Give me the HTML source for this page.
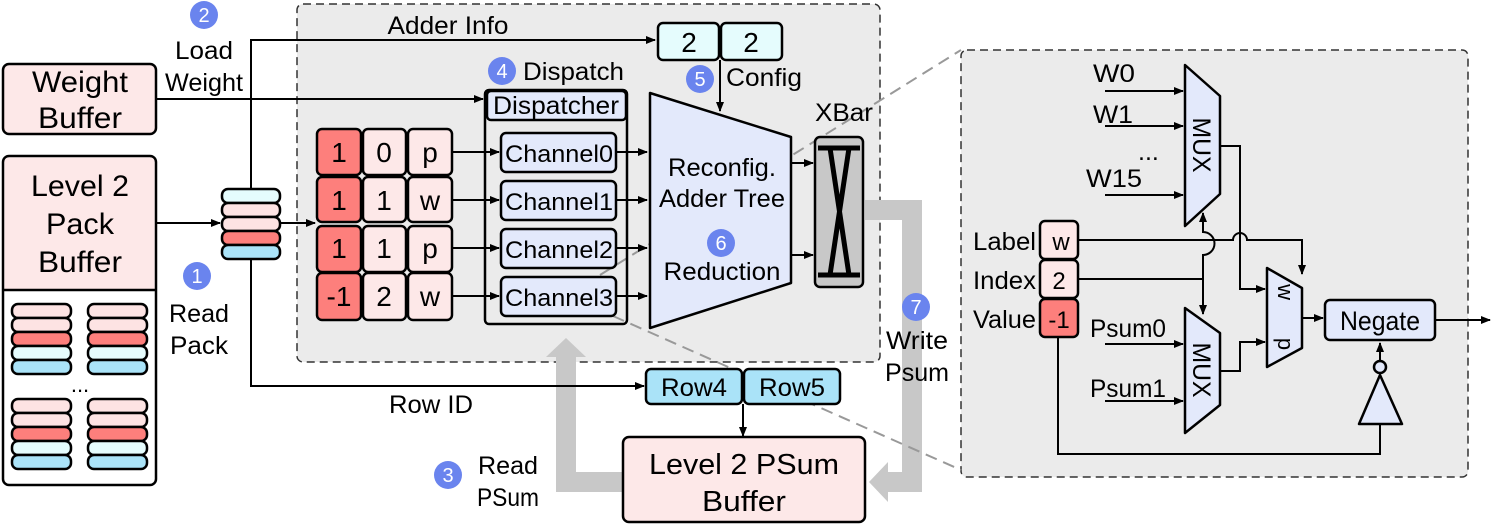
<!DOCTYPE html>
<html><head><meta charset="utf-8"><style>
html,body{margin:0;padding:0;background:#fff;}
svg{display:block;font-family:"Liberation Sans",sans-serif;}
</style></head><body>
<svg width="1495" height="529" viewBox="0 0 1495 529" xmlns="http://www.w3.org/2000/svg">
<defs>
<marker id="a" markerWidth="10" markerHeight="8" refX="9" refY="4" orient="auto" markerUnits="userSpaceOnUse"><path d="M0,0 L10,4 L0,8 z" fill="#000"/></marker>
</defs>
<rect x="297" y="4" width="583" height="358" rx="6" fill="#ebebeb" stroke="#333" stroke-width="1.5" stroke-dasharray="8,5"/>
<rect x="961" y="50" width="507" height="427" rx="6" fill="#ebebeb" stroke="#333" stroke-width="1.5" stroke-dasharray="8,5"/>

<path d="M623,482 L566,482 L566,355" fill="none" stroke="#c8c8c8" stroke-width="20"/>
<polygon points="546,357 586,357 566,338" fill="#c8c8c8"/>
<path d="M865,210 L912,210 L912,482 L888,482" fill="none" stroke="#c8c8c8" stroke-width="20"/>
<polygon points="888,462 888,502 869,482" fill="#c8c8c8"/>

<line x1="600" y1="275" x2="961" y2="50" stroke="#999" stroke-width="2" stroke-dasharray="12,7"/>
<line x1="613" y1="316" x2="961" y2="470" stroke="#999" stroke-width="2" stroke-dasharray="12,7"/>

<rect x="3" y="64" width="153" height="70" rx="6" fill="#fde8e8" stroke="#000" stroke-width="2.5"/>
<text x="80" y="92" font-size="30" text-anchor="middle" textLength="96" lengthAdjust="spacingAndGlyphs">Weight</text>
<text x="80" y="128" font-size="30" text-anchor="middle" textLength="84" lengthAdjust="spacingAndGlyphs">Buffer</text>
<rect x="3" y="156" width="153" height="329" rx="6" fill="#fff" stroke="#000" stroke-width="2.5"/>
<path d="M4.5,290 L4.5,162 Q4.5,157.5 9,157.5 L150,157.5 Q154.5,157.5 154.5,162 L154.5,290 Z" fill="#fde8e8"/>
<line x1="3" y1="290" x2="156" y2="290" stroke="#000" stroke-width="2.5"/>
<text x="80" y="196" font-size="30" text-anchor="middle" textLength="98" lengthAdjust="spacingAndGlyphs">Level 2</text>
<text x="80" y="234" font-size="30" text-anchor="middle" textLength="68" lengthAdjust="spacingAndGlyphs">Pack</text>
<text x="80" y="272" font-size="30" text-anchor="middle" textLength="84" lengthAdjust="spacingAndGlyphs">Buffer</text>
<g stroke="#000" stroke-width="2.5">
<rect x="12" y="304" width="59" height="14" rx="6" fill="#fde3e3"/><rect x="12" y="318" width="59" height="14" rx="6" fill="#fde3e3"/><rect x="12" y="332" width="59" height="14" rx="6" fill="#fd7f7c"/><rect x="12" y="346" width="59" height="14" rx="6" fill="#e5fcfd"/><rect x="12" y="360" width="59" height="14" rx="6" fill="#aae3f8"/>
<rect x="88" y="304" width="59" height="14" rx="6" fill="#fde3e3"/><rect x="88" y="318" width="59" height="14" rx="6" fill="#fde3e3"/><rect x="88" y="332" width="59" height="14" rx="6" fill="#fd7f7c"/><rect x="88" y="346" width="59" height="14" rx="6" fill="#e5fcfd"/><rect x="88" y="360" width="59" height="14" rx="6" fill="#aae3f8"/>
<rect x="12" y="399" width="59" height="14" rx="6" fill="#fde3e3"/><rect x="12" y="413" width="59" height="14" rx="6" fill="#fde3e3"/><rect x="12" y="427" width="59" height="14" rx="6" fill="#fd7f7c"/><rect x="12" y="441" width="59" height="14" rx="6" fill="#e5fcfd"/><rect x="12" y="455" width="59" height="14" rx="6" fill="#aae3f8"/>
<rect x="88" y="399" width="59" height="14" rx="6" fill="#fde3e3"/><rect x="88" y="413" width="59" height="14" rx="6" fill="#fde3e3"/><rect x="88" y="427" width="59" height="14" rx="6" fill="#fd7f7c"/><rect x="88" y="441" width="59" height="14" rx="6" fill="#e5fcfd"/><rect x="88" y="455" width="59" height="14" rx="6" fill="#aae3f8"/>
</g>
<text x="80" y="392" font-size="22" text-anchor="middle">...</text>

<g stroke="#000" stroke-width="2" fill="none">
<path d="M251,188 L251,40 L655,40" marker-end="url(#a)"/>
<path d="M156,99 L483,99" marker-end="url(#a)"/>
<path d="M251,259 L251,386 L644,386" marker-end="url(#a)"/>
<path d="M156,223 L220,223" marker-end="url(#a)"/>
<path d="M281,223 L315,223" marker-end="url(#a)"/>
</g>
<g stroke="#000" stroke-width="2.5">
<rect x="222" y="189" width="58" height="14" rx="6" fill="#e5fcfd"/><rect x="222" y="203" width="58" height="14" rx="6" fill="#fde3e3"/><rect x="222" y="217" width="58" height="14" rx="6" fill="#fde3e3"/><rect x="222" y="231" width="58" height="14" rx="6" fill="#fd7f7c"/><rect x="222" y="245" width="58" height="14" rx="6" fill="#aae3f8"/>
</g>
<g font-size="25">
<text x="204" y="59" text-anchor="middle" textLength="58" lengthAdjust="spacingAndGlyphs">Load</text>
<text x="204" y="91" text-anchor="middle" textLength="78" lengthAdjust="spacingAndGlyphs">Weight</text>
<text x="199" y="322" text-anchor="middle" textLength="60" lengthAdjust="spacingAndGlyphs">Read</text>
<text x="199" y="354" text-anchor="middle" textLength="58" lengthAdjust="spacingAndGlyphs">Pack</text>
<text x="448" y="34" text-anchor="middle" textLength="121" lengthAdjust="spacingAndGlyphs">Adder Info</text>
<text x="431" y="413" text-anchor="middle" textLength="84" lengthAdjust="spacingAndGlyphs">Row ID</text>
</g>

<g stroke="#000" stroke-width="2.5">
<rect x="317" y="129" width="44" height="46" rx="5" fill="#fd7f7c"/><rect x="363" y="129" width="43" height="46" rx="5" fill="#fde8e8"/><rect x="408" y="129" width="44" height="46" rx="5" fill="#fde8e8"/>
<rect x="317" y="177" width="44" height="45" rx="5" fill="#fd7f7c"/><rect x="363" y="177" width="43" height="45" rx="5" fill="#fde8e8"/><rect x="408" y="177" width="44" height="45" rx="5" fill="#fde8e8"/>
<rect x="317" y="226" width="44" height="46" rx="5" fill="#fd7f7c"/><rect x="363" y="226" width="43" height="46" rx="5" fill="#fde8e8"/><rect x="408" y="226" width="44" height="46" rx="5" fill="#fde8e8"/>
<rect x="317" y="273" width="44" height="47" rx="5" fill="#fd7f7c"/><rect x="363" y="273" width="43" height="47" rx="5" fill="#fde8e8"/><rect x="408" y="273" width="44" height="47" rx="5" fill="#fde8e8"/>
</g>
<g font-size="28" text-anchor="middle">
<text x="339" y="162">1</text><text x="384" y="162">0</text><text x="430" y="162">p</text>
<text x="339" y="210">1</text><text x="384" y="210">1</text><text x="430" y="210">w</text>
<text x="339" y="258">1</text><text x="384" y="258">1</text><text x="430" y="258">p</text>
<text x="339" y="306">-1</text><text x="384" y="306">2</text><text x="430" y="306">w</text>
</g>
<g stroke="#000" stroke-width="2" fill="none">
<path d="M452,152 L499,152" marker-end="url(#a)"/><path d="M452,200 L499,200" marker-end="url(#a)"/>
<path d="M452,248 L499,248" marker-end="url(#a)"/><path d="M452,296 L499,296" marker-end="url(#a)"/>
<path d="M616,152 L647,152" marker-end="url(#a)"/><path d="M616,200 L647,200" marker-end="url(#a)"/>
<path d="M616,248 L647,248" marker-end="url(#a)"/><path d="M616,296 L647,296" marker-end="url(#a)"/>
<path d="M720,60 L720,111" marker-end="url(#a)"/>
<path d="M792,163 L813,163" marker-end="url(#a)"/><path d="M792,255 L813,255" marker-end="url(#a)"/>
<path d="M743,404 L743,436" marker-end="url(#a)"/>
</g>
<rect x="485" y="90" width="142" height="234" rx="4" fill="none" stroke="#000" stroke-width="2.5"/>
<rect x="487" y="91" width="139" height="29" rx="4" fill="#e3e9fb" stroke="#000" stroke-width="2.5"/>
<text x="556" y="114" font-size="25" text-anchor="middle" textLength="126" lengthAdjust="spacingAndGlyphs">Dispatcher</text>
<g stroke="#000" stroke-width="2.5" fill="#e3e9fb">
<rect x="501" y="133" width="115" height="39" rx="5"/><rect x="501" y="181" width="115" height="39" rx="5"/>
<rect x="501" y="229" width="115" height="39" rx="5"/><rect x="501" y="277" width="115" height="39" rx="5"/>
</g>
<g font-size="24" text-anchor="middle">
<text x="559" y="162" textLength="108" lengthAdjust="spacingAndGlyphs">Channel0</text><text x="559" y="210" textLength="108" lengthAdjust="spacingAndGlyphs">Channel1</text>
<text x="559" y="258" textLength="108" lengthAdjust="spacingAndGlyphs">Channel2</text><text x="559" y="306" textLength="108" lengthAdjust="spacingAndGlyphs">Channel3</text>
</g>
<text x="523" y="80" font-size="25" textLength="101" lengthAdjust="spacingAndGlyphs">Dispatch</text>
<polygon points="650,93 791,137 791,283 650,328" fill="#e3e9fb" stroke="#000" stroke-width="2.5" stroke-linejoin="round"/>
<text x="722" y="176" font-size="25" text-anchor="middle" textLength="108" lengthAdjust="spacingAndGlyphs">Reconfig.</text>
<text x="722" y="207" font-size="25" text-anchor="middle" textLength="126" lengthAdjust="spacingAndGlyphs">Adder Tree</text>
<text x="722" y="280" font-size="25" text-anchor="middle" textLength="117" lengthAdjust="spacingAndGlyphs">Reduction</text>
<rect x="658" y="23" width="61" height="37" rx="5" fill="#e5fcfd" stroke="#000" stroke-width="2.5"/>
<rect x="721" y="23" width="61" height="37" rx="5" fill="#e5fcfd" stroke="#000" stroke-width="2.5"/>
<text x="689" y="52" font-size="28" text-anchor="middle">2</text><text x="751" y="52" font-size="28" text-anchor="middle">2</text>
<text x="726" y="86" font-size="25" textLength="76" lengthAdjust="spacingAndGlyphs">Config</text>
<rect x="815" y="137" width="48" height="150" rx="5" fill="#c8c8c8" stroke="#000" stroke-width="2.5"/>
<path d="M818,148 L860,148 M818,275 L860,275 M830,148 L849,275 M849,148 L830,275" stroke="#000" stroke-width="5" fill="none"/>
<text x="815" y="121" font-size="25" textLength="58" lengthAdjust="spacingAndGlyphs">XBar</text>
<rect x="646" y="369" width="96" height="35" rx="5" fill="#aae3f8" stroke="#000" stroke-width="2.5"/>
<rect x="744" y="369" width="96" height="35" rx="5" fill="#aae3f8" stroke="#000" stroke-width="2.5"/>
<text x="694" y="396" font-size="25" text-anchor="middle" textLength="66" lengthAdjust="spacingAndGlyphs">Row4</text><text x="792" y="396" font-size="25" text-anchor="middle" textLength="66" lengthAdjust="spacingAndGlyphs">Row5</text>
<rect x="623" y="437" width="242" height="85" rx="6" fill="#fde8e8" stroke="#000" stroke-width="2.5"/>
<text x="744" y="474" font-size="29" text-anchor="middle" textLength="190" lengthAdjust="spacingAndGlyphs">Level 2 PSum</text>
<text x="744" y="511" font-size="29" text-anchor="middle" textLength="84" lengthAdjust="spacingAndGlyphs">Buffer</text>
<g font-size="25">
<text x="508" y="474" text-anchor="middle" textLength="60" lengthAdjust="spacingAndGlyphs">Read</text>
<text x="508" y="506" text-anchor="middle" textLength="62" lengthAdjust="spacingAndGlyphs">PSum</text>
<text x="917" y="349" text-anchor="middle" textLength="62" lengthAdjust="spacingAndGlyphs">Write</text>
<text x="917" y="381" text-anchor="middle" textLength="64" lengthAdjust="spacingAndGlyphs">Psum</text>
</g>

<g fill="#6a84ee">
<circle cx="204" cy="15" r="14"/><circle cx="197" cy="276" r="14"/><circle cx="502" cy="71" r="14"/>
<circle cx="700" cy="79" r="14"/><circle cx="721" cy="243" r="14"/><circle cx="916" cy="307" r="14"/><circle cx="448" cy="475" r="14"/>
</g>
<g fill="#fff" font-size="20" text-anchor="middle">
<text x="204" y="22">2</text><text x="197" y="283">1</text><text x="502" y="78">4</text>
<text x="700" y="86">5</text><text x="721" y="250">6</text><text x="916" y="314">7</text><text x="448" y="482">3</text>
</g>

<g font-size="25">
<text x="1093" y="82" textLength="42" lengthAdjust="spacingAndGlyphs">W0</text><text x="1093" y="123" textLength="40" lengthAdjust="spacingAndGlyphs">W1</text><text x="1138" y="160">...</text><text x="1086" y="187" textLength="56" lengthAdjust="spacingAndGlyphs">W15</text>
<text x="1036" y="250" text-anchor="end" textLength="63" lengthAdjust="spacingAndGlyphs">Label</text><text x="1036" y="289" text-anchor="end" textLength="63" lengthAdjust="spacingAndGlyphs">Index</text><text x="1036" y="328" text-anchor="end" textLength="63" lengthAdjust="spacingAndGlyphs">Value</text>
<text x="1090" y="337" textLength="76" lengthAdjust="spacingAndGlyphs">Psum0</text><text x="1090" y="397" textLength="76" lengthAdjust="spacingAndGlyphs">Psum1</text>
</g>
<g stroke="#000" stroke-width="2" fill="none">
<path d="M1105,91 L1183,91" marker-end="url(#a)"/><path d="M1105,126 L1183,126" marker-end="url(#a)"/>
<path d="M1105,195 L1183,195" marker-end="url(#a)"/>
<path d="M1105,344 L1183,344" marker-end="url(#a)"/><path d="M1105,401 L1183,401" marker-end="url(#a)"/>
<path d="M1078,240 L1233,240 A7,7 0 0 1 1247,240 L1302,240 L1302,274" marker-end="url(#a)"/>
<path d="M1078,279 L1203,279"/>
<path d="M1203,279 L1203,255 A8,8 0 0 0 1203,232 L1203,213" marker-end="url(#a)"/>
<path d="M1203,279 L1203,314" marker-end="url(#a)"/>
<path d="M1220,146 L1240,146 L1240,289 L1265,289" marker-end="url(#a)"/>
<path d="M1220,371 L1240,371 L1240,342 L1265,342" marker-end="url(#a)"/>
<path d="M1302,318 L1323,318" marker-end="url(#a)"/>
<path d="M1435,320 L1490,320" marker-end="url(#a)"/>
<path d="M1058,337 L1058,454 L1380,454 L1380,424"/>
<path d="M1380,361 L1380,343" marker-end="url(#a)"/>
</g>
<g stroke="#000" stroke-width="2.5" fill="#e3e9fb" stroke-linejoin="round">
<polygon points="1185,65 1220,96 1220,194 1185,226"/>
<polygon points="1185,308 1220,333 1220,405 1185,433"/>
<polygon points="1267,268 1302,288 1302,348 1267,367"/>
<rect x="1325" y="300" width="110" height="40" rx="5"/>
<polygon points="1380,375 1402,424 1359,424"/>
<circle cx="1380" cy="367" r="6"/>
</g>
<text transform="translate(1193,145) rotate(90)" font-size="25" text-anchor="middle" textLength="55" lengthAdjust="spacingAndGlyphs">MUX</text>
<text transform="translate(1193,370) rotate(90)" font-size="25" text-anchor="middle" textLength="55" lengthAdjust="spacingAndGlyphs">MUX</text>
<text transform="translate(1278,292) rotate(90)" font-size="22" text-anchor="middle">w</text>
<text transform="translate(1278,344) rotate(90)" font-size="22" text-anchor="middle">p</text>
<text x="1380" y="330" font-size="27" text-anchor="middle" textLength="80" lengthAdjust="spacingAndGlyphs">Negate</text>
<g stroke="#000" stroke-width="2.5">
<rect x="1040" y="221" width="38" height="38" rx="5" fill="#fde8e8"/>
<rect x="1040" y="260" width="38" height="38" rx="5" fill="#fde8e8"/>
<rect x="1040" y="299" width="38" height="38" rx="5" fill="#fd7f7c"/>
</g>
<text x="1061" y="250" font-size="24" text-anchor="middle">w</text>
<text x="1059" y="289" font-size="24" text-anchor="middle">2</text>
<text x="1059" y="328" font-size="24" text-anchor="middle">-1</text>
</svg>
</body></html>
